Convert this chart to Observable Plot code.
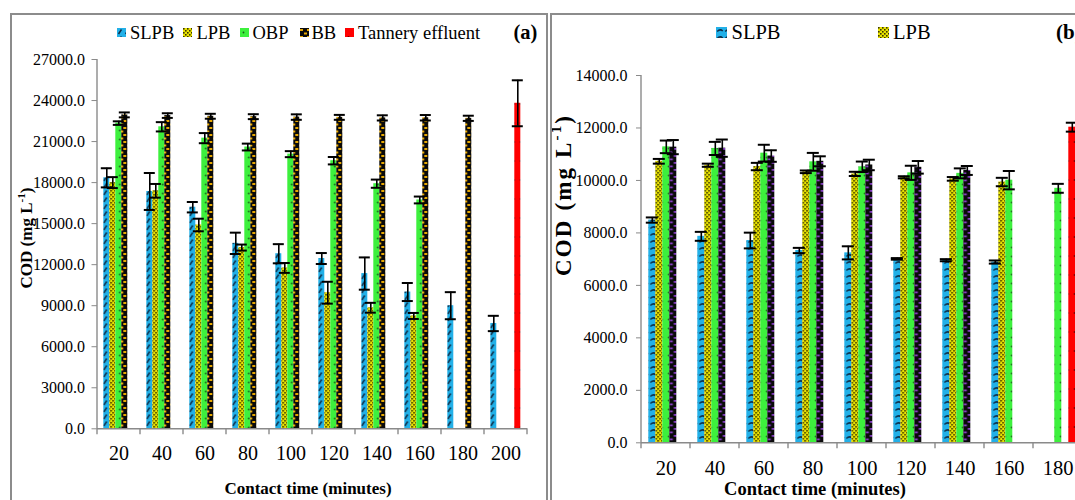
<!DOCTYPE html>
<html><head><meta charset="utf-8">
<script src="https://cdn.jsdelivr.net/npm/d3@7"></script>
<script src="https://cdn.jsdelivr.net/npm/@observablehq/plot@0.6"></script>
<style>
html,body{margin:0;padding:0;background:#fff;overflow:hidden;}
#root{position:relative;width:1075px;height:500px;overflow:hidden;font-family:"Liberation Serif","Tinos","Times New Roman","DejaVu Serif",serif;color:#000;background:#fff;}
.panel{position:absolute;border:2px solid #8c8c8c;box-sizing:border-box;pointer-events:none;}
.plotwrap{position:absolute;top:0;}
.plotwrap svg{max-width:none !important;}
.leg{position:absolute;white-space:nowrap;line-height:1;}
.sw{position:absolute;}
</style></head>
<body>
<svg width="0" height="0" style="position:absolute">
<defs>
<pattern id="slpbA" patternUnits="userSpaceOnUse" width="7" height="7">
<rect width="7" height="7" fill="#22b0e8"/>
<path d="M1.5,6 L4.5,1.5" stroke="#0d2f4a" stroke-width="1.5"/>
</pattern>
<pattern id="slpbB" patternUnits="userSpaceOnUse" width="8" height="7">
<rect width="8" height="7" fill="#22b0e8"/>
<path d="M1.2,4.5 Q4,1.5 6.8,4" stroke="#0d2f4a" stroke-width="1.5" fill="none"/>
</pattern>
<pattern id="lpb" patternUnits="userSpaceOnUse" width="4" height="4">
<rect width="4" height="4" fill="#e8e200"/>
<rect x="0" y="0" width="1.6" height="1.6" fill="#3a3500"/>
<rect x="2" y="2" width="1.6" height="1.6" fill="#3a3500"/>
</pattern>
<pattern id="obp" patternUnits="userSpaceOnUse" width="7" height="9">
<rect width="7" height="9" fill="#3df03d"/>
<circle cx="3.5" cy="4.5" r="0.9" fill="#1a5a1a"/>
</pattern>
<pattern id="bbA" patternUnits="userSpaceOnUse" width="7" height="7">
<rect width="7" height="7" fill="#0a0a0a"/>
<rect x="0" y="1" width="3" height="2" fill="#e8a800"/>
<rect x="4" y="4.5" width="3" height="2" fill="#e8a800"/>
</pattern>
<pattern id="bbB" patternUnits="userSpaceOnUse" width="8" height="7">
<rect width="8" height="7" fill="#0a0a0a"/>
<rect x="0.5" y="1" width="3" height="1.8" fill="#8a40c8"/>
<rect x="4.5" y="4.5" width="3" height="1.8" fill="#8a40c8"/>
</pattern>
<pattern id="tan" patternUnits="userSpaceOnUse" width="7" height="19">
<rect width="7" height="19" fill="#ff0000"/>
<circle cx="3.5" cy="9" r="1" fill="#6a0000"/>
</pattern>
</defs>
</svg>
<div id="root"></div>
<script>
// ---------- data ----------
const seriesNames = ["SLPB", "LPB", "OBP", "BB", "Tannery effluent"];

// panel (a)
const timesA = [20, 40, 60, 80, 100, 120, 140, 160, 180, 200];
const yTicksA = [0, 3000, 6000, 9000, 12000, 15000, 18000, 21000, 24000, 27000];
const slpbA    = [18350, 17350, 16200, 13560, 12800, 12450, 11350, 10000, 9000, 7700];
const slpbAErr = [700, 1350, 380, 780, 700, 400, 1180, 660, 990, 560];
const lpbA     = [18000, 17400, 14900, 13250, 11760, 9950, 8850, 8250, null, null];
const lpbAErr  = [400, 500, 460, 220, 360, 800, 360, 220, null, null];
const obpA     = [22350, 22080, 21250, 20600, 20080, 19600, 17920, 16730, null, null];
const obpAErr  = [130, 340, 370, 250, 220, 270, 300, 250, null, null];
const bbA      = [22950, 22900, 22850, 22820, 22790, 22770, 22730, 22740, 22700, null];
const bbAErr   = [180, 170, 180, 180, 200, 180, 190, 200, 190, null];
const tanA     = [null, null, null, null, null, null, null, null, null, 23800];
const tanAErr  = [null, null, null, null, null, null, null, null, null, 1680];

// panel (b)
const timesB = [20, 40, 60, 80, 100, 120, 140, 160, 180];
const yTicksB = [0, 2000, 4000, 6000, 8000, 10000, 12000, 14000];
const slpbB    = [8490, 7870, 7710, 7330, 7240, 7010, 6960, 6890, null];
const slpbBErr = [100, 170, 300, 100, 250, 30, 40, 60, null];
const lpbB     = [10730, 10580, 10530, 10330, 10250, 10120, 10060, 9940, null];
const lpbBErr  = [90, 60, 140, 50, 80, 40, 70, 160, null];
const obpB     = [11280, 11220, 11040, 10710, 10520, 10290, 10270, 10010, 9700];
const obpBErr  = [240, 250, 320, 340, 200, 270, 190, 350, 170];
const bbB      = [11270, 11230, 10930, 10730, 10590, 10500, 10380, null, null];
const bbBErr   = [270, 330, 220, 190, 200, 240, 170, null, null];
const tanB     = [null, null, null, null, null, null, null, null, 12030];
const tanBErr  = [null, null, null, null, null, null, null, null, 170];

function buildRows(times, table) {
  const out = [];
  table.forEach(([name, vals, errs]) => vals.forEach((v, i) => {
    if (v != null) out.push({time: times[i], series: name, value: v, err: errs[i]});
  }));
  return out;
}
const rowsA = buildRows(timesA, [["SLPB", slpbA, slpbAErr], ["LPB", lpbA, lpbAErr], ["OBP", obpA, obpAErr], ["BB", bbA, bbAErr], ["Tannery effluent", tanA, tanAErr]]);
const rowsB = buildRows(timesB, [["SLPB", slpbB, slpbBErr], ["LPB", lpbB, lpbBErr], ["OBP", obpB, obpBErr], ["BB", bbB, bbBErr], ["Tannery effluent", tanB, tanBErr]]);

const FONT = "'Liberation Serif', Tinos, 'Times New Roman', 'DejaVu Serif', serif";
const root = document.getElementById("root");

function makePanel(cfg) {
  const {times, rows, yTicks, width, height, margins, patterns, po, xFont, yFont, xPad, ySize, yPad, capInset} = cfg;
  const yMax = yTicks[yTicks.length - 1];
  const er = rows.filter(d => d.err != null);
  const plot = Plot.plot({
    width, height,
    marginLeft: margins[0], marginRight: margins[1], marginTop: margins[2], marginBottom: margins[3],
    style: {fontFamily: FONT, background: "transparent", color: "#000", overflow: "visible", maxWidth: "none"},
    fx: {domain: times, padding: 0, label: null},
    x: {domain: seriesNames, paddingInner: 0, paddingOuter: po, axis: null},
    y: {domain: [0, yMax]},
    color: {type: "ordinal", domain: seriesNames, range: patterns},
    marks: [
      Plot.barY(rows, {fx: "time", x: "series", y: "value", fill: "series"}),
      Plot.ruleY([0], {stroke: "#8a8a8a", strokeWidth: 1.4}),
      Plot.ruleX(er, {fx: "time", x: "series", y1: d => d.value - d.err, y2: d => d.value + d.err, stroke: "#000", strokeWidth: 1.6}),
      Plot.tickY(er, {fx: "time", x: "series", y: d => d.value - d.err, stroke: "#000", strokeWidth: 2, insetLeft: -capInset, insetRight: -capInset}),
      Plot.tickY(er, {fx: "time", x: "series", y: d => d.value + d.err, stroke: "#000", strokeWidth: 2, insetLeft: -capInset, insetRight: -capInset}),
      Plot.axisY({ticks: yTicks, tickFormat: d3.format(".1f"), tickSize: ySize, tickPadding: yPad, stroke: "#8a8a8a", fill: "#000", fontSize: yFont, label: null}),
      Plot.axisFx({anchor: "bottom", tickSize: 0, tickPadding: xPad, fontSize: xFont, fill: "#000", label: null, tickFormat: d => String(d)})
    ]
  });
  plot.style.maxWidth = "none";
  const svg = d3.select(plot);
  const fx = plot.scale("fx"), y = plot.scale("y");
  const x0 = fx.apply(times[0]);
  const x1 = fx.apply(times[times.length - 1]) + fx.bandwidth;
  const y0 = y.apply(0), yT = y.apply(yMax);
  svg.append("line").attr("x1", x0).attr("x2", x0).attr("y1", y0).attr("y2", yT)
    .attr("stroke", "#8a8a8a").attr("stroke-width", 1.4);
  times.map(t => fx.apply(t)).concat([x1]).forEach(x => {
    svg.append("line").attr("x1", x).attr("x2", x).attr("y1", y0).attr("y2", y0 + 6)
      .attr("stroke", "#8a8a8a").attr("stroke-width", 1.4);
  });
  // y title
  const t = svg.append("text")
    .attr("transform", `translate(${cfg.yTitle[0]},${cfg.yTitle[1]}) rotate(-90)`)
    .attr("text-anchor", "middle").attr("dominant-baseline", "middle")
    .style("font-weight", "bold").style("font-size", cfg.yTitle[2] + "px").attr("fill", "#000");
  if (cfg.yTitle[3]) t.attr("textLength", cfg.yTitle[3]).attr("lengthAdjust", "spacing");
  t.append("tspan").text("COD (mg L");
  t.append("tspan").attr("baseline-shift", "super").style("font-size", "65%").text("-1");
  t.append("tspan").text(")");
  // x title
  svg.append("text").attr("x", cfg.xTitle[0]).attr("y", cfg.xTitle[1])
    .attr("text-anchor", "middle").attr("dominant-baseline", "middle")
    .style("font-weight", "bold").style("font-size", cfg.xTitle[2] + "px").attr("fill", "#000")
    .text("Contact time (minutes)");
  const wrap = document.createElement("div");
  wrap.className = "plotwrap";
  wrap.style.left = cfg.left + "px";
  wrap.style.width = width + "px";
  wrap.appendChild(plot);
  root.appendChild(wrap);
}

makePanel({
  times: timesA, rows: rowsA, yTicks: yTicksA, width: 548, height: 500,
  margins: [92.7, 17.3, 59, 71.7], left: 0,
  patterns: ["url(#slpbA)", "url(#lpb)", "url(#obp)", "url(#bbA)", "url(#tan)"],
  po: 0.6, xFont: 20, yFont: 16, xPad: 17, ySize: 5.5, yPad: 7, capInset: 2.5,
  yTitle: [28, 238, 17, 0], xTitle: [308, 490, 17]
});
makePanel({
  times: timesB, rows: rowsB, yTicks: yTicksB, width: 560, height: 500,
  margins: [87.7, 25, 75, 57.7], left: 550,
  patterns: ["url(#slpbB)", "url(#lpb)", "url(#obp)", "url(#bbB)", "url(#tan)"],
  po: 0.725, xFont: 20.5, yFont: 16, xPad: 18, ySize: 5, yPad: 9, capInset: 2.5,
  yTitle: [16, 196, 23, 160], xTitle: [265, 490.5, 18.5]
});

// panel frames
function frame(left, top, w, h) {
  const d = document.createElement("div");
  d.className = "panel";
  Object.assign(d.style, {left: left + "px", top: top + "px", width: w + "px", height: h + "px"});
  root.appendChild(d);
}
frame(10, 13, 538, 520);
frame(550, 13, 600, 520);

// legends
function legendItem(swLeft, swTop, swSize, pattern, txtLeft, txtTop, fontSize, label) {
  const s = document.createElementNS("http://www.w3.org/2000/svg", "svg");
  s.setAttribute("width", swSize); s.setAttribute("height", swSize);
  s.setAttribute("class", "sw");
  s.style.left = swLeft + "px"; s.style.top = swTop + "px";
  const r = document.createElementNS("http://www.w3.org/2000/svg", "rect");
  r.setAttribute("width", swSize); r.setAttribute("height", swSize); r.setAttribute("fill", pattern);
  s.appendChild(r);
  root.appendChild(s);
  const t = document.createElement("div");
  t.className = "leg";
  Object.assign(t.style, {left: txtLeft + "px", top: txtTop + "px", fontSize: fontSize + "px"});
  t.textContent = label;
  root.appendChild(t);
}
legendItem(117, 28, 9, "url(#slpbA)", 130, 23.5, 18.5, seriesNames[0]);
legendItem(183, 28, 9, "url(#lpb)", 196.5, 23.5, 18.5, seriesNames[1]);
legendItem(239.5, 28, 9, "url(#obp)", 252.5, 23.5, 18.5, seriesNames[2]);
legendItem(300, 28, 9, "url(#bbA)", 311.5, 23.5, 18.5, seriesNames[3]);
legendItem(345, 28, 9, "url(#tan)", 358, 23.5, 18.5, seriesNames[4]);
legendItem(716, 27, 11, "url(#slpbB)", 731.5, 22, 20.5, seriesNames[0]);
legendItem(878, 27, 11, "url(#lpb)", 893, 22, 20.5, seriesNames[1]);

function tag(left, top, size, txt) {
  const t = document.createElement("div");
  t.className = "leg";
  Object.assign(t.style, {left: left + "px", top: top + "px", fontSize: size + "px", fontWeight: "bold"});
  t.textContent = txt;
  root.appendChild(t);
}
tag(513.5, 22, 20.5, "(a)");
tag(1056, 22, 21, "(b)");
</script>
</body></html>
